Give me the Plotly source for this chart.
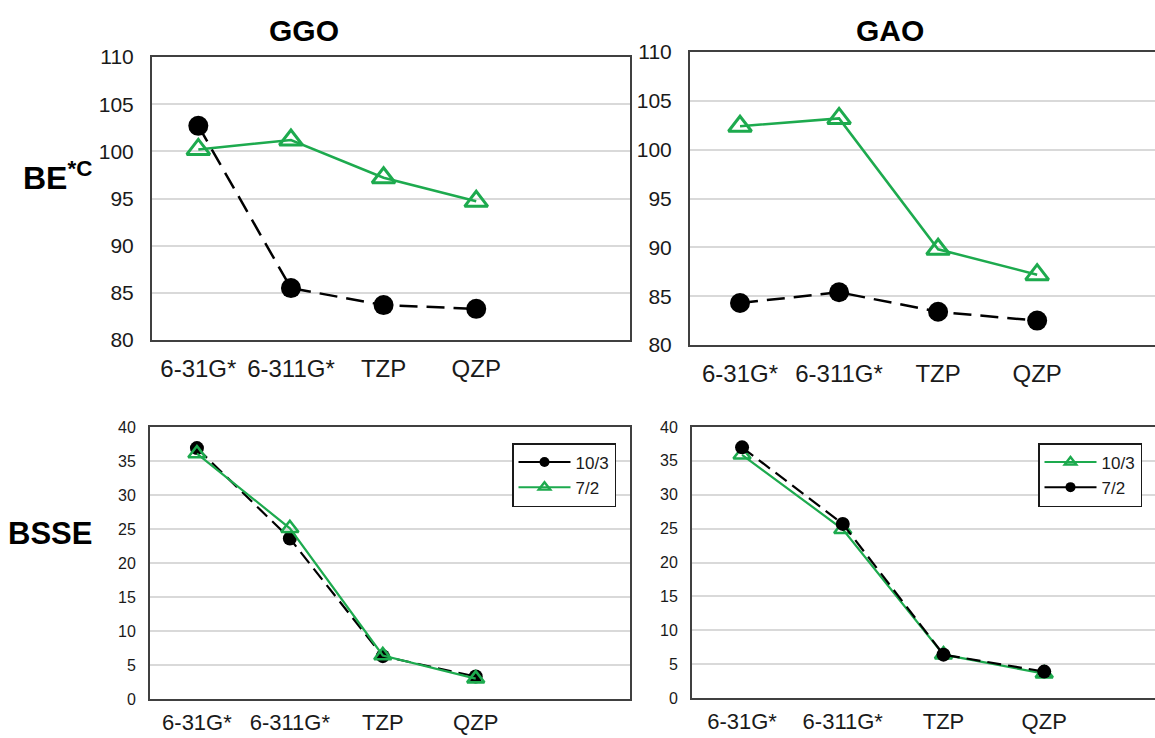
import plotly.graph_objects as go

W, H = 1155, 738
categories = ["6-31G*", "6-311G*", "TZP", "QZP"]
xpos = [0, 1, 2, 3]

# BE*C panels
ggo_be_black = [102.7, 85.5, 83.7, 83.3]
ggo_be_green = [100.2, 101.2, 97.2, 94.7]
gao_be_green = [102.4, 103.2, 89.8, 87.2]
gao_be_black = [84.3, 85.4, 83.4, 82.5]

# BSSE panels
ggo_bsse_103 = [36.9, 23.6, 6.3, 3.3]   # black circles
ggo_bsse_72 = [36.1, 25.1, 6.4, 3.0]    # green triangles
gao_bsse_103 = [35.9, 24.9, 6.4, 3.6]   # green triangles
gao_bsse_72 = [37.0, 25.7, 6.4, 3.9]    # black circles

GREEN = "#1DAA4E"
BLACK = "#000000"
FONT = "Liberation Sans, Arial, sans-serif"

fig = go.Figure()

def px_x(a, b):
    return [a / W, b / W]

def px_y(top, bottom):
    return [1 - bottom / H, 1 - top / H]

def add_pair(xa, ya, black_vals, green_vals, big, order="bg"):
    csize = 20 if big else 14
    tsize = 20 if big else 15
    lw = 2.5 if big else 2.2
    black = go.Scatter(x=xpos, y=black_vals, xaxis=xa, yaxis=ya, mode="lines+markers",
                       line=dict(color=BLACK, width=lw, dash="18px,9px" if big else "14px,7px"),
                       marker=dict(symbol="circle", size=csize, color=BLACK),
                       showlegend=False)
    green = go.Scatter(x=xpos, y=green_vals, xaxis=xa, yaxis=ya, mode="lines+markers",
                       line=dict(color=GREEN, width=lw),
                       marker=dict(symbol="triangle-up-open", size=tsize, color=GREEN,
                                   line=dict(width=3 if big else 2.6, color=GREEN)),
                       showlegend=False)
    if order == "bg":
        fig.add_trace(black); fig.add_trace(green)
    else:
        fig.add_trace(green); fig.add_trace(black)

add_pair("x", "y", ggo_be_black, ggo_be_green, True, order="bg")
add_pair("x2", "y2", gao_be_black, gao_be_green, True, order="bg")
add_pair("x3", "y3", ggo_bsse_103, ggo_bsse_72, False, order="bg")
add_pair("x4", "y4", gao_bsse_72, gao_bsse_103, False, order="gb")

# legend entries (solid sample lines)
def leg_black(name, legend):
    fig.add_trace(go.Scatter(x=[None], y=[None], xaxis="x3", yaxis="y3", mode="lines+markers",
                             name=name, legend=legend,
                             line=dict(color=BLACK, width=2),
                             marker=dict(symbol="circle", size=10, color=BLACK)))

def leg_green(name, legend):
    fig.add_trace(go.Scatter(x=[None], y=[None], xaxis="x3", yaxis="y3", mode="lines+markers",
                             name=name, legend=legend,
                             line=dict(color=GREEN, width=2),
                             marker=dict(symbol="triangle-up-open", size=10, color=GREEN,
                                         line=dict(width=2.4, color=GREEN))))

leg_black("10/3", "legend")
leg_green("7/2", "legend")
leg_green("10/3", "legend2")
leg_black("7/2", "legend2")

def xaxis(dom, rng, big, mirror=True):
    return dict(domain=dom, range=rng, tickvals=xpos, ticktext=categories, automargin=False,
                showgrid=False, zeroline=False, showline=True, linecolor="#404040",
                linewidth=2, mirror=mirror, ticks="outside", ticklen=6 if big else 3,
                tickcolor="rgba(0,0,0,0)", tickfont=dict(family=FONT, size=24 if big else 22, color="#1a1a1a"))

def yaxis(dom, rng, dtick, big, mirror=True):
    return dict(domain=dom, range=rng, dtick=dtick, tick0=0, automargin=False,
                showgrid=True, gridcolor="#d9d9d9", gridwidth=1.5, zeroline=False,
                showline=True, linecolor="#404040", linewidth=2, mirror=mirror,
                ticks="outside", ticklen=12 if big else 9, tickcolor="rgba(0,0,0,0)",
                tickfont=dict(family=FONT, size=21 if big else 16, color="#1a1a1a"))

legend_style = dict(xanchor="left", yanchor="top", bgcolor="white", bordercolor="#1a1a1a",
                    borderwidth=1.5, itemwidth=52, tracegroupgap=0,
                    font=dict(family=FONT, size=17, color="#1a1a1a"))

fig.update_layout(
    template="none",
    width=W, height=H, margin=dict(l=0, r=0, t=0, b=0, autoexpand=False),
    paper_bgcolor="white", plot_bgcolor="white",
    xaxis=xaxis(px_x(152, 630), [-0.5, 4.66], True),
    yaxis=yaxis(px_y(57, 340), [80, 110], 5, True),
    xaxis2=dict(xaxis(px_x(690, 1155), [-0.505, 4.19], True), anchor="y2"),
    yaxis2=dict(yaxis(px_y(52, 345), [80, 110], 5, True, mirror=False), anchor="x2"),
    xaxis3=dict(xaxis(px_x(150, 630), [-0.505, 4.66], False), anchor="y3"),
    yaxis3=dict(yaxis(px_y(427, 699), [0, 40], 5, False), anchor="x3"),
    xaxis4=dict(xaxis(px_x(692, 1155), [-0.497, 4.10], False), anchor="y4"),
    yaxis4=dict(yaxis(px_y(427, 698), [0, 40], 5, False, mirror=False), anchor="x4"),
    legend=dict(legend_style, x=512 / W, y=1 - 443 / H),
    legend2=dict(legend_style, x=1038 / W, y=1 - 443 / H),
)

def label(text, x, y, size):
    fig.add_annotation(text=text, x=x / W, y=1 - y / H, xref="paper", yref="paper",
                       showarrow=False, xanchor="center", yanchor="middle",
                       font=dict(family=FONT, size=size, color="black"))

label("<b>GGO</b>", 304, 31, 30)
label("<b>GAO</b>", 890, 31, 30)
label("<b>BE<sup>*C</sup></b>", 57, 176, 32)
label("<b>BSSE</b>", 50, 533, 31)

fig.write_html("out.html")
